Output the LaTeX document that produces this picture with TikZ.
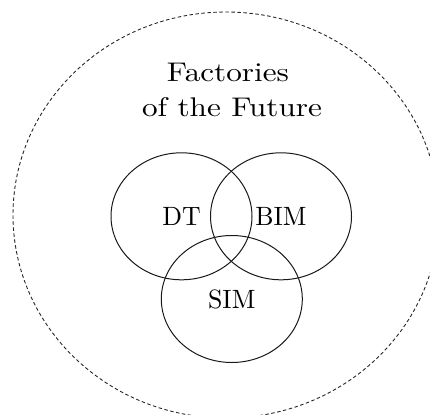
\documentclass[tikz,border=0pt]{standalone}
\usetikzlibrary{shapes.geometric}
\begin{document}
\begin{tikzpicture}[x=1pt,y=-1pt,
  venn/.style={ellipse,draw=black!90,line width=1pt,minimum width=141pt,minimum height=127pt,inner sep=0pt},
  outer/.style={ellipse,draw=black!85,line width=0.9pt,dash pattern=on 3.5pt off 2.5pt,minimum width=426pt,minimum height=406pt,inner sep=0pt},
  ttl/.style={inner sep=0pt,anchor=base,xscale=3.12,yscale=2.7,transform shape,font=\fontsize{10}{12}\selectfont},
  lab/.style={inner sep=0pt,xscale=2.58,yscale=2.65,transform shape,font=\fontsize{10}{12}\selectfont}]
\useasboundingbox (0,0) rectangle (430,414);
\node[outer] (fof) at (226,215) {};
\node[ttl] (t1) at (228,81.7) {Factories};
\node[ttl] (t2) at (232,116.7) {of the Future};
\node[venn] (dt) at (181.5,216.3) {};
\node[venn] (bim) at (281,216.3) {};
\node[venn] (sim) at (231.8,299) {};
\node[lab] (dtl) at (dt.center) {DT};
\node[lab] (biml) at (bim.center) {BIM};
\node[lab] (siml) at (sim.center) {SIM};
\end{tikzpicture}
\end{document}
